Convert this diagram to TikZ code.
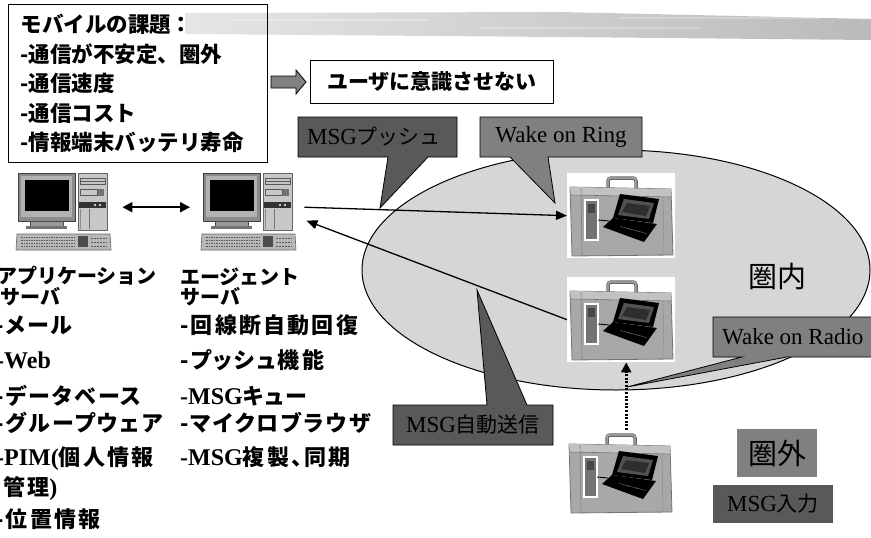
\documentclass[tikz,border=0pt]{standalone}
\usepackage{fontspec}
\setmainfont{Liberation Serif}
\newfontfamily\jp{Noto Sans CJK JP}
\newfontfamily\jpp[RawFeature=+palt,LetterSpace=10]{Noto Sans CJK JP}
\usetikzlibrary{arrows.meta,shapes.geometric,calc}
\newcommand\jt[1]{{\jp\fontsize{21}{21}\selectfont #1}}
\newcommand\jl[1]{{\jpp\fontsize{22}{22}\selectfont #1}}

\tikzset{
  computer/.pic={
    % monitor
    \fill[black!45,draw=black!75,line width=0.6pt] (1,0) rectangle (58,48);
    \fill[black!30] (4,3) rectangle (55,44);
    \fill[black] (8,7) rectangle (52,38);
    \fill[black!40,draw=black!70,line width=0.5pt] (13,48) rectangle (46,53);
    \fill[black!55] (9,53) rectangle (50,56);
    % tower
    \fill[black!22,draw=black!60,line width=0.6pt] (61,0) rectangle (90,57);
    \draw[black!65,line width=0.5pt] (63,5) rectangle (88,11);
    \draw[black!65,line width=0.5pt] (63,8) -- (88,8);
    \draw[black!65,line width=0.5pt] (63,16) rectangle (80,22);
    \fill[black!55] (81,16) rectangle (87,23);
    \fill[black!80] (62,29) rectangle (89,35);
    \fill[white] (78,32) circle (1.1);
    \fill[white] (83,32) circle (1.1);
    \draw[black!55,line width=0.5pt] (72,36) -- (72,56);
    \draw[black!45,line width=0.4pt] (63,36) -- (63,56);
    % keyboard
    \fill[black!28,draw=black!60,line width=0.6pt] (0,61) -- (93,61) -- (94,77) -- (-1,77) -- cycle;
    \foreach \yy in {64.5,67.5,70.5,73.5}
      \draw[black!65,line width=1pt,dash pattern=on 1.5pt off 1pt] (4,\yy) -- (58,\yy);
    \fill[black!70] (61,63) rectangle (71,74);
    \foreach \yy in {65,69,73}
      \draw[black!65,line width=1pt,dash pattern=on 2pt off 1pt] (74,\yy) -- (90,\yy);
  },
  case/.pic={
    \fill[white] (0,0) rectangle (108,85);
    % handle
    \draw[black!60,line width=3.5pt,rounded corners=3pt] (41,16) -- (41,5) -- (69,5) -- (69,16);
    \draw[black!30,line width=1.4pt,rounded corners=2pt] (41,15) -- (41,5) -- (69,5) -- (69,15);
    % body
    \fill[black!34,draw=black!55,line width=0.8pt] (3,14) -- (104,16) -- (106,82) -- (5,83) -- cycle;
    \fill[black!24] (3,14) -- (104,16) -- (104,24) -- (4,22) -- cycle;
    \draw[black!55,line width=0.6pt] (4,22) -- (104,24);
    \draw[black!50,line width=0.6pt] (14,15) -- (15,83);
    \draw[black!45,line width=0.5pt] (96,24) -- (97,82);
    % phone
    \fill[black!55,draw=white,line width=1.2pt] (18,27) rectangle (31,67);
    \fill[black!72] (21,31) rectangle (28,40);
    % cable
    \draw[black,line width=0.9pt] (31,47) -- (42,48);
    % laptop
    \fill[black] (36,54) -- (46,45) -- (90,51) -- (77,69) -- cycle;
    \foreach \t in {0.3,0.5,0.7}
      \draw[black!55,line width=0.4pt] ($(41,50)!\t!(82,61)$) -- ++(10,3);
    \fill[black] (53,21) -- (92,26) -- (86,50) -- (46,45) -- cycle;
    \fill[black!68] (57,26) -- (87,30) -- (82,46) -- (51,42) -- cycle;
    \fill[black!82] (60,30) -- (83,33) -- (79,43) -- (55,39) -- cycle;
  },
  callA/.style={fill=black!65,draw=black,line width=0.8pt},
  callB/.style={fill=black!50,draw=black,line width=0.8pt},
  ctext/.style={inner sep=0pt,font=\fontsize{23}{23}\selectfont},
  lst/.style={anchor=base west,inner sep=0pt,font=\fontsize{24}{24}\selectfont\bfseries},
  lbl/.style={anchor=base west,inner sep=0pt,font=\jp\fontsize{20}{20}\selectfont\bfseries},
  conn/.style={line width=1.3pt,-{Triangle[length=11pt,width=9pt]}},
  dbl/.style={line width=2pt,{Triangle[length=10pt,width=10pt]}-{Triangle[length=10pt,width=10pt]}},
  dotarrow/.style={line width=2.6pt,dash pattern=on 2pt off 1.6pt,-{Triangle[length=10pt,width=10pt]}},
  holder/.style={inner sep=0pt,anchor=north west},
}

\begin{document}
\begin{tikzpicture}[x=1pt,y=-1pt]
\useasboundingbox (0,0) rectangle (871,538);
\clip (0,0) rectangle (871,538);

% brush band along the top
\shade[left color=black!10,middle color=black!32,right color=black!27]
  (185,13) -- (560,12) -- (871,19) -- (871,40) -- (560,37) -- (185,34) -- cycle;
\fill[white,opacity=0.3] (230,19) rectangle (430,21);
\fill[white,opacity=0.25] (480,27) rectangle (700,29);
\fill[white,opacity=0.25] (620,17) rectangle (820,19);

% problem list and goal
\node[draw,line width=1pt,anchor=north west,minimum width=259pt,minimum height=158pt,
      text width=235pt,inner xsep=12pt,inner ysep=0pt,align=left,
      font=\jp\bfseries\fontsize{21.5}{29.5}\selectfont] (issues) at (8,4)
  {モバイルの課題：\\-通信が不安定、圏外\\-通信速度\\-通信コスト\\-情報端末バッテリ寿命};
\node[draw,line width=1pt,minimum height=43pt,text width=209pt,inner xsep=17pt,align=left,
      font=\jp\bfseries\fontsize{21}{21}\selectfont] (goal) at (431.5,82) {ユーザに意識させない};
\fill[black!50,draw=black,line width=0.8pt]
  (271,76) -- (296,76) -- (296,70) -- (306,82) -- (296,94) -- (296,88) -- (271,88) -- cycle;

% coverage area
\node[ellipse,draw,line width=1pt,fill=black!16,minimum width=508pt,minimum height=240pt] (zone) at (616,270) {};

% callouts
\draw[callA] (298,117) -- (457,117) -- (457,157) -- (428,157) -- (380,208) -- (388,157) -- (298,157) -- cycle;
\node[ctext] (push) at (374,137) {MSG\jt{プッシュ}};
\draw[callB] (480,117) -- (642,117) -- (642,157) -- (548,157) -- (555,203) -- (510,157) -- (480,157) -- cycle;
\node[ctext] (ring) at (561,137) {Wake on Ring};
\draw[callA] (393,405) -- (487,405) -- (477,290) -- (527,405) -- (553,405) -- (553,445) -- (393,445) -- cycle;
\node[ctext] (autosend) at (473,425) {MSG\jt{自動送信}};
\draw[callB] (713,317) -- (885,317) -- (885,357) -- (787,357) -- (627,387) -- (742,357) -- (713,357) -- cycle;
\node[ctext,anchor=west] (radio) at (722,337) {Wake on Radio};

% computers
\node[holder,minimum width=94pt,minimum height=77pt] (app) at (17,173) {};
\pic at (app.north west) {computer};
\node[holder,minimum width=94pt,minimum height=77pt] (agent) at (202,173) {};
\pic at (agent.north west) {computer};
\draw[dbl] ([shift={(11pt,4.5pt)}]app.east) -- ([shift={(-12pt,4.5pt)}]agent.west);

% mobile terminals
\node[holder,minimum width=108pt,minimum height=85pt] (case1) at (567,173) {};
\pic at (case1.north west) {case};
\node[holder,minimum width=108pt,minimum height=85pt] (case2) at (567,277) {};
\pic at (case2.north west) {case};
\node[holder,minimum width=108pt,minimum height=85pt] (case3) at (566,430) {};
\pic at (case3.north west) {case};

% message paths
\coordinate (agentTx) at ([shift={(8pt,4.5pt)}]agent.east);
\coordinate (agentRx) at ([shift={(10pt,-9pt)}]agent.east);
\draw[conn] (agentTx) -- (case1.west);
\draw[conn] (case2.west) -- (agentRx);
\draw[dotarrow] ([xshift=6pt]case3.north) -- ([xshift=5pt]case2.south);

% area labels
\node[font=\jp\fontsize{29}{29}\selectfont] (inside) at (777,277) {圏内};
\node[fill=black!50,minimum height=48pt,inner xsep=11pt,anchor=west,
      font=\jp\fontsize{29}{29}\selectfont] (outside) at (737,453) {圏外\hspace{15pt}};
\node[fill=black!65,minimum width=120pt,minimum height=38pt,font=\fontsize{23}{23}\selectfont] (msgin) at (773,504) {MSG\jt{入力}};

% server captions
\node[lbl] (applbl1) at (-3,283) {アプリケーション};
\node[lbl] (applbl2) at (0,304) {サーバ};
\node[lbl] (agtlbl1) at (180,284) {エージェント};
\node[lbl] (agtlbl2) at (180,304) {サーバ};

% application server functions
\node[lst] (a1) at (-5,333) {\jl{-メール}};
\node[lst] (a2) at (-4,368) {-Web};
\node[lst] (a3) at (-5,404) {\jl{-データベース}};
\node[lst] (a4) at (-5,431) {\jl{-グループウェア}};
\node[lst] (a5) at (-4,465) {-PIM(\jl{個人情報}};
\node[lst] (a6) at (3,495) {\jl{管理})};
\node[lst] (a7) at (-5,527) {\jl{-位置情報}};

% agent server functions
\node[lst] (b1) at (180,333) {\jl{-回線断自動回復}};
\node[lst] (b2) at (180,368) {\jl{-プッシュ機能}};
\node[lst] (b3) at (180,404) {-MSG\jl{キュー}};
\node[lst] (b4) at (180,431) {\jl{-マイクロブラウザ}};
\node[lst] (b5) at (180,465) {-MSG\jl{複製、同期}};
\end{tikzpicture}
\end{document}
